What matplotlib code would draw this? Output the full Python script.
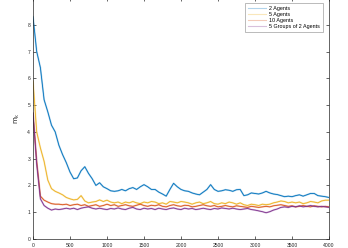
import numpy as np
import matplotlib
matplotlib.use("Agg")
import matplotlib.pyplot as plt
from matplotlib.lines import Line2D

steps = np.arange(0, 4001, 50)

agents2 = [8.3, 7.0, 6.4, 5.2, 4.75, 4.25, 4.0, 3.5, 3.15, 2.85,
           2.5, 2.25, 2.28, 2.55, 2.7, 2.45, 2.25, 2.0, 2.1, 1.95,
           1.88, 1.8, 1.78, 1.8, 1.85, 1.8, 1.88, 1.92, 1.85, 1.95,
           2.03, 1.95, 1.85, 1.85, 1.75, 1.68, 1.6, 1.85, 2.08, 1.95,
           1.85, 1.8, 1.78, 1.72, 1.68, 1.65, 1.75, 1.85, 2.03, 1.85,
           1.78, 1.8, 1.84, 1.82, 1.78, 1.84, 1.85, 1.62, 1.65, 1.72,
           1.7, 1.68, 1.72, 1.78, 1.72, 1.68, 1.66, 1.62, 1.58, 1.6,
           1.58, 1.62, 1.65, 1.6, 1.65, 1.7, 1.7, 1.62, 1.6, 1.58, 1.55]

agents5 = [5.9, 4.0, 3.4, 2.9, 2.2, 1.88, 1.78, 1.72, 1.65, 1.55,
           1.5, 1.46, 1.48, 1.62, 1.42, 1.35, 1.38, 1.4, 1.46, 1.4,
           1.45, 1.38, 1.35, 1.38, 1.32, 1.38, 1.35, 1.4, 1.35, 1.32,
           1.38, 1.35, 1.4, 1.38, 1.32, 1.35, 1.3, 1.4, 1.38, 1.35,
           1.4, 1.38, 1.35, 1.3, 1.35, 1.38, 1.32, 1.35, 1.4, 1.32,
           1.3, 1.35, 1.32, 1.38, 1.35, 1.3, 1.35, 1.28, 1.25, 1.3,
           1.28, 1.25, 1.3, 1.28, 1.3, 1.35, 1.38, 1.42, 1.4, 1.35,
           1.38, 1.35, 1.38, 1.32, 1.35, 1.4, 1.38, 1.35, 1.42, 1.45, 1.45]

agents10 = [4.7, 2.9, 1.6, 1.45, 1.38, 1.32, 1.3, 1.3, 1.28, 1.3,
            1.25, 1.28, 1.3, 1.25, 1.28, 1.22, 1.25, 1.28, 1.22, 1.25,
            1.3, 1.25, 1.28, 1.22, 1.25, 1.28, 1.24, 1.22, 1.26, 1.3,
            1.25, 1.22, 1.26, 1.24, 1.28, 1.22, 1.2, 1.25, 1.28, 1.24,
            1.22, 1.26, 1.25, 1.2, 1.22, 1.25, 1.28, 1.24, 1.22, 1.25,
            1.2, 1.22, 1.25, 1.22, 1.2, 1.24, 1.22, 1.2, 1.18, 1.22,
            1.2, 1.18, 1.2, 1.22, 1.2, 1.24, 1.26, 1.28, 1.25, 1.22,
            1.24, 1.2, 1.22, 1.25, 1.22, 1.2, 1.24, 1.22, 1.2, 1.22, 1.2]

groups5 = [4.7, 2.8, 1.5, 1.25, 1.15, 1.08, 1.12, 1.1, 1.12, 1.15,
           1.12, 1.15, 1.1, 1.15, 1.18, 1.2, 1.15, 1.12, 1.15, 1.12,
           1.1, 1.14, 1.12, 1.16, 1.12, 1.1, 1.15, 1.18, 1.12, 1.1,
           1.15, 1.12, 1.14, 1.1, 1.15, 1.12, 1.1, 1.14, 1.16, 1.12,
           1.1, 1.15, 1.12, 1.14, 1.1, 1.12, 1.15, 1.12, 1.1, 1.14,
           1.12, 1.16, 1.14, 1.12, 1.15, 1.12, 1.1, 1.12, 1.14, 1.1,
           1.08, 1.05, 1.02, 0.98, 1.02, 1.08, 1.12, 1.18, 1.2, 1.18,
           1.22, 1.2, 1.24, 1.2, 1.22, 1.25, 1.22, 1.2, 1.22, 1.2, 1.18]

labels = ["2 Agents", "5 Agents", "10 Agents", "5 Groups of 2 Agents"]
series = [agents2, agents5, agents10, groups5]
colors = ["#0072BD", "#EDB120", "#D95319", "#7E2F8E"]

plt.rcParams['font.family'] = ['Liberation Sans', 'DejaVu Sans']
fig = plt.figure(figsize=(3.48, 2.48), dpi=100)
ax = fig.add_axes([33/348, 1 - 239/248, 296/348, 241/248])

for vals, c in zip(series, colors):
    ax.plot(steps, vals, color=c, lw=1.3, alpha=0.3, solid_joinstyle='round')
    ax.plot(steps, vals, color=c, lw=0.6)

ax.set_xlim(0, 4000)
ax.set_ylim(0, 9)
ax.set_xticks(np.arange(0, 4001, 500))
ax.set_yticks(np.arange(0, 10, 1))
axc = "#262626"
for s in ax.spines.values():
    s.set_color(axc)
    s.set_linewidth(0.5)
ax.tick_params(direction='in', length=2, width=0.5, colors=axc, labelsize=3.6,
               top=True, right=True, pad=2)
ax.tick_params(axis='x', pad=3)
ax.set_ylabel(r'$\mathrm{m_k}$', fontsize=5, color=axc, labelpad=4)

handles = [Line2D([], [], color=c, lw=0.8, alpha=0.3) for c in colors]
leg = ax.legend(handles, labels, loc='upper right', bbox_to_anchor=(323/348, 1 - 3/248),
                bbox_transform=fig.transFigure, borderaxespad=0, fontsize=3.9,
                frameon=True, fancybox=False, handlelength=3.4, handletextpad=0.6,
                labelspacing=0.2, borderpad=0.5)
leg.get_frame().set_edgecolor("#888888")
leg.get_frame().set_linewidth(0.5)

fig.savefig("out.png", dpi=100)
